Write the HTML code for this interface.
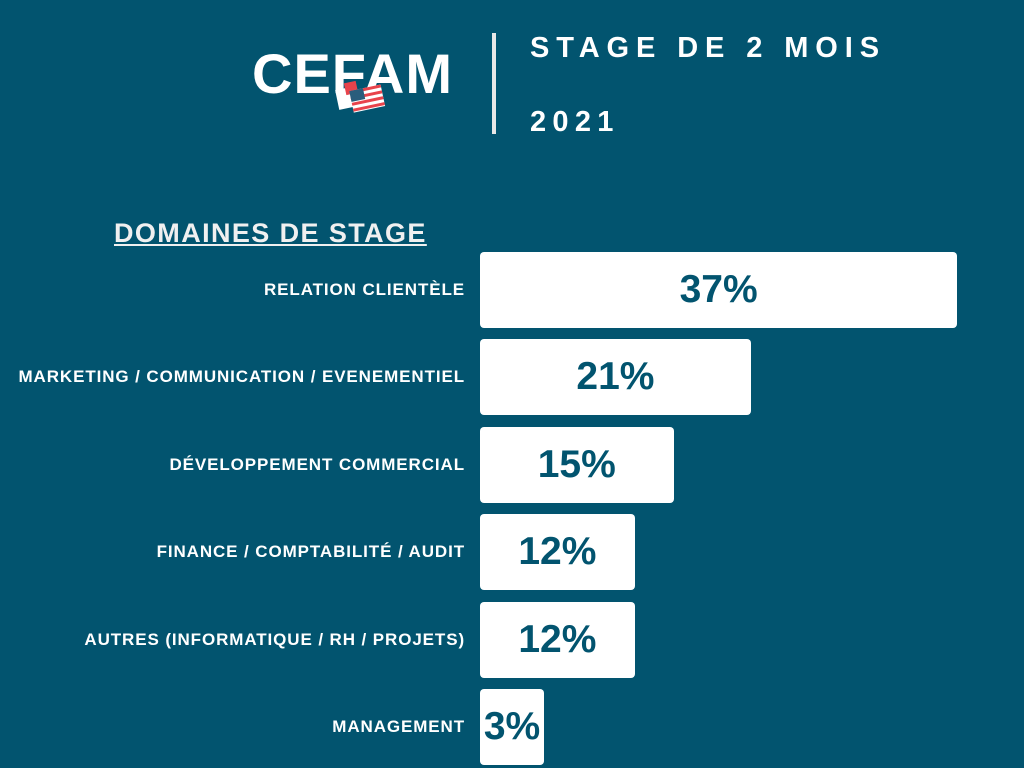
<!DOCTYPE html>
<html><head><meta charset="utf-8"><style>
body{margin:0;width:1024px;height:768px;background:#02546f;overflow:hidden;position:relative;font-family:"Liberation Sans",sans-serif;color:#fff}
.abs{position:absolute}
.lbl{position:absolute;right:559px;font-weight:bold;font-size:17px;letter-spacing:0.9px;white-space:nowrap;line-height:20px}
.bar{position:absolute;left:480px;background:#fff;border-radius:4px;height:76px;color:#02546f;font-weight:bold;font-size:39px;display:flex;align-items:center;justify-content:center}
</style></head><body>
<div class="abs" style="left:252px;top:42px;font-size:56px;font-weight:bold;letter-spacing:1px;line-height:64px">CEFAM</div>
<svg class="abs" style="left:335px;top:80px" width="55" height="36">
<rect x="2" y="8" width="20" height="20" fill="#fff" transform="rotate(-12 12 18)"/>
<rect x="10" y="2" width="12" height="12" fill="#e8434b" transform="rotate(-12 16 8)"/>
<g transform="rotate(-12 30 18)"><rect x="16" y="8" width="32" height="22" fill="#fff"/>
<rect x="16" y="8" width="32" height="3" fill="#e8434b"/><rect x="16" y="14" width="32" height="3" fill="#e8434b"/><rect x="16" y="20" width="32" height="3" fill="#e8434b"/><rect x="16" y="26" width="32" height="3" fill="#e8434b"/>
<rect x="16" y="8" width="14" height="11" fill="#2a5d7c"/></g></svg>
<div class="abs" style="left:492px;top:33px;width:4px;height:101px;background:#e8e8e8"></div>
<div class="abs" style="left:530px;top:32px;font-size:29px;font-weight:bold;letter-spacing:6.9px">STAGE DE 2 MOIS</div>
<div class="abs" style="left:530px;top:106px;font-size:29px;font-weight:bold;letter-spacing:6.3px">2021</div>
<div class="abs" style="left:114px;top:218px;font-size:27px;font-weight:bold;letter-spacing:1.4px;text-decoration:underline;color:#f0f0f0">DOMAINES DE STAGE</div>
<div id="chart"></div>
<script>
const categories=["RELATION CLIENTÈLE","MARKETING / COMMUNICATION / EVENEMENTIEL","DÉVELOPPEMENT COMMERCIAL","FINANCE / COMPTABILITÉ / AUDIT","AUTRES (INFORMATIQUE / RH / PROJETS)","MANAGEMENT"];
const values=[37,21,15,12,12,3];
const chart=document.getElementById('chart');
const x=v=>Math.max(v*12.9,64);
const y=i=>252+i*87.4;
categories.forEach((c,i)=>{
 const l=document.createElement('div');l.className='lbl';l.style.top=(y(i)+28)+'px';l.textContent=c;
 
 
 chart.appendChild(l);
 const b=document.createElement('div');b.className='bar';b.style.top=y(i)+'px';b.style.width=x(values[i])+'px';b.textContent=values[i]+'%';
 
 
 chart.appendChild(b);
});
</script>
</body></html>
